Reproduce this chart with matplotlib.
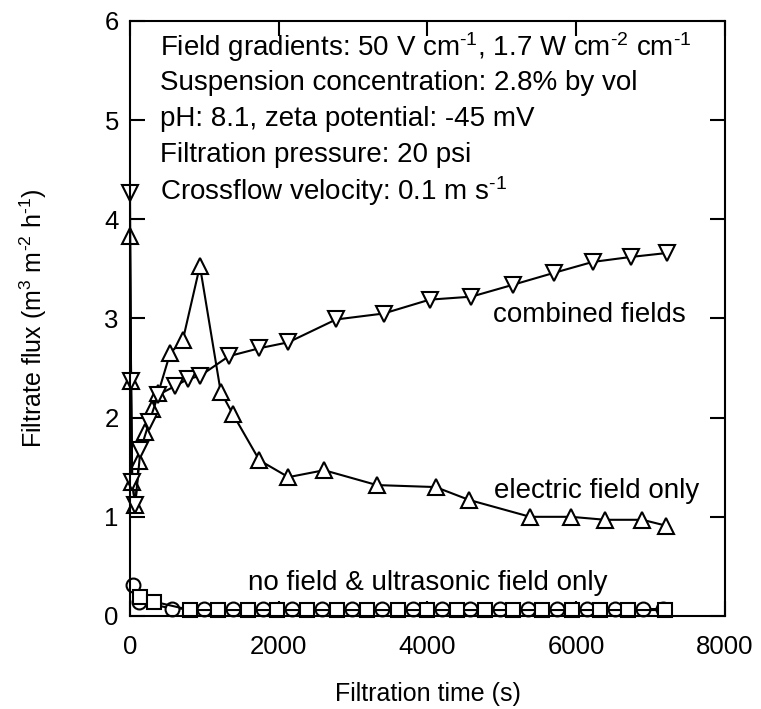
import numpy as np
import matplotlib
matplotlib.use("Agg")
import matplotlib.pyplot as plt

plt.rcParams['font.family'] = ['Liberation Sans', 'DejaVu Sans']
plt.rcParams['mathtext.fontset'] = 'custom'
plt.rcParams['mathtext.rm'] = 'Liberation Sans'
plt.rcParams['mathtext.default'] = 'regular'

# combined fields (down triangles)
t_comb = [0, 15, 30, 70, 140, 260, 380, 610, 780, 940, 1330, 1740, 2130,
          2770, 3410, 4030, 4590, 5150, 5700, 6220, 6730, 7215]
f_comb = [4.27, 2.37, 1.35, 1.12, 1.67, 1.96, 2.23, 2.32, 2.39, 2.42, 2.62,
          2.70, 2.76, 2.99, 3.05, 3.19, 3.22, 3.34, 3.46, 3.57, 3.62, 3.66]

# electric field only (up triangles)
t_elec = [0, 15, 30, 70, 120, 200, 290, 380, 540, 710, 940, 1220, 1380,
          1740, 2130, 2610, 3320, 4110, 4560, 5380, 5930, 6390, 6890, 7210]
f_elec = [3.83, 2.37, 1.35, 1.12, 1.56, 1.86, 2.09, 2.25, 2.65, 2.78, 3.53,
          2.26, 2.04, 1.57, 1.40, 1.47, 1.32, 1.30, 1.17, 1.00, 1.00, 0.97,
          0.97, 0.91]

# no field (circles)
t_none = [45, 117, 565, 995, 1389, 1788, 2174, 2577, 2980, 3383, 3800, 4190,
          4571, 4974, 5355, 5736, 6139, 6520, 6901, 7170]
f_none = [0.31, 0.145, 0.075, 0.07, 0.07, 0.07, 0.07, 0.07, 0.07, 0.07,
          0.07, 0.07, 0.07, 0.07, 0.07, 0.07, 0.07, 0.07, 0.07, 0.07]

# ultrasonic field only (squares)
t_us = [139, 318, 811, 1188, 1591, 1972, 2375, 2779, 3182, 3600, 3988,
        4391, 4773, 5154, 5535, 5938, 6319, 6699, 7193]
f_us = [0.195, 0.145, 0.06, 0.06, 0.06, 0.06, 0.06, 0.06, 0.06, 0.06, 0.06,
        0.06, 0.06, 0.06, 0.06, 0.06, 0.06, 0.06, 0.06]

HY = "\u2010"  # small hyphen for superscripts, like the original
conditions = [
    rf"Field gradients: 50 V cm$^{{{HY}1}}$, 1.7 W cm$^{{{HY}2}}$ cm$^{{{HY}1}}$",
    "Suspension concentration: 2.8% by vol",
    "pH: 8.1, zeta potential: -45 mV",
    "Filtration pressure: 20 psi",
    rf"Crossflow velocity: 0.1 m s$^{{{HY}1}}$",
]

fig = plt.figure(figsize=(7.61, 7.09), dpi=100)
ax = fig.add_axes([0.1708, 0.1312, 0.7819, 0.8392])

style = dict(color='black', lw=1.5, mfc='white', mec='black', mew=1.5,
             clip_on=False)
ax.plot(t_none, f_none, marker='o', ms=10, **style)
ax.plot(t_us, f_us, marker='s', ms=10, **style)
ax.plot(t_elec, f_elec, marker='^', ms=11.5, **style)
ax.plot(t_comb, f_comb, marker='v', ms=11.5, **style)

ax.set_xlim(0, 8000)
ax.set_ylim(0, 6)
ax.set_xticks([0, 2000, 4000, 6000, 8000])
ax.set_yticks([0, 1, 2, 3, 4, 5, 6])
ax.tick_params(direction='in', length=10.8, width=1.5, labelsize=18.5,
               top=True, right=True)
ax.tick_params(axis='x', pad=14)
ax.tick_params(axis='y', pad=8)
for s in ax.spines.values():
    s.set_linewidth(1.5)

ax.set_xlabel("Filtration time (s)", fontsize=18, labelpad=16)
ax.set_ylabel(rf"Filtrate flux (m$^{{3}}$ m$^{{{HY}2}}$ h$^{{{HY}1}}$)",
              fontsize=18, labelpad=40)

y0 = 5.74
for i, line in enumerate(conditions):
    ax.text(400, y0 - i * 0.363, line, fontsize=20, va='center', ha='left')

ax.text(6171, 3.04, "combined fields", fontsize=20, ha='center', va='center')
ax.text(6279, 1.26, "electric field only", fontsize=20, ha='center',
        va='center')
ax.text(4010, 0.33, "no field & ultrasonic field only", fontsize=20,
        ha='center', va='center')

fig.savefig("out.png", dpi=100)
